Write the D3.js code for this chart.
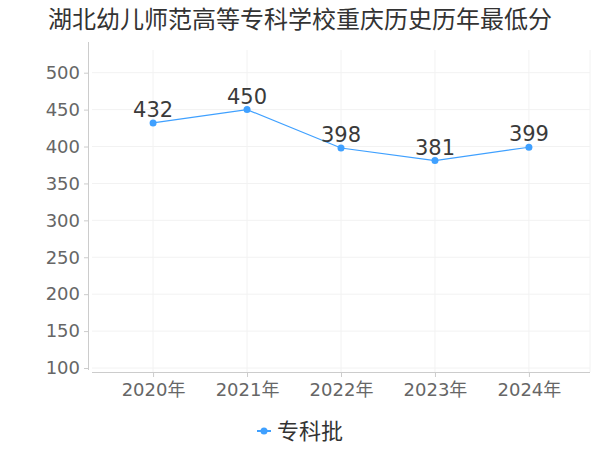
<!DOCTYPE html>
<html><head><meta charset="utf-8">
<script src="https://cdn.jsdelivr.net/npm/d3@7"></script>
<style>body{margin:0;background:#fff}svg{display:block}text{font-family:"DejaVu Sans","Noto Sans CJK SC",sans-serif}</style>
</head><body>
<svg id="c" width="600" height="450"></svg>
<script>
const title = "湖北幼儿师范高等专科学校重庆历史历年最低分";
const years = ["2020年","2021年","2022年","2023年","2024年"];
const values = [432,450,398,381,399];
const seriesName = "专科批";
const yTicks = [100,150,200,250,300,350,400,450,500];

const svg = d3.select("#c");
const x = d3.scalePoint().domain(years).range([92,590]).padding(0.65);
const y = d3.scaleLinear().domain([100,500]).range([368,72.7]);
const color = "#3fa0ff";

svg.append("text").attr("x",300).attr("y",28).attr("text-anchor","middle")
  .attr("font-size",24).attr("fill","#333").style("font-family","'Noto Sans CJK SC',sans-serif").text(title);

// grid
const g = svg.append("g");
g.selectAll(".hg").data(yTicks).enter().append("line")
  .attr("x1",92).attr("x2",590).attr("y1",d=>y(d)).attr("y2",d=>y(d))
  .attr("stroke","#f2f2f2");
g.selectAll(".vg").data(years).enter().append("line")
  .attr("x1",d=>x(d)).attr("x2",d=>x(d)).attr("y1",50).attr("y2",372)
  .attr("stroke","#f2f2f2");
g.append("line").attr("x1",590).attr("x2",590).attr("y1",50).attr("y2",372).attr("stroke","#f2f2f2");

// y axis
const ya = svg.append("g").attr("transform","translate(88,0)")
  .call(d3.axisLeft(y).tickValues(yTicks).tickSize(4).tickPadding(4));
ya.select(".domain").remove();
ya.selectAll(".tick line").attr("stroke","#ccc");
ya.selectAll(".tick text").attr("font-size",18).attr("fill","#666");
svg.append("line").attr("x1",88.5).attr("x2",88.5).attr("y1",42).attr("y2",370).attr("stroke","#ccc");

// x axis
const xa = svg.append("g").attr("transform","translate(0,372)")
  .call(d3.axisBottom(x).tickSize(5).tickPadding(6));
xa.select(".domain").remove();
xa.selectAll(".tick line").attr("stroke","#ccc");
xa.selectAll(".tick text").attr("font-size",18).attr("fill","#666");
svg.append("line").attr("x1",92).attr("x2",590).attr("y1",372.5).attr("y2",372.5).attr("stroke","#ccc");

// line
const line = d3.line().x((d,i)=>x(years[i])).y(d=>y(d));
svg.append("path").datum(values).attr("d",line).attr("fill","none").attr("stroke",color).attr("stroke-width",1.2);
svg.selectAll(".pt").data(values).enter().append("circle")
  .attr("cx",(d,i)=>x(years[i])).attr("cy",d=>y(d)).attr("r",3.5).attr("fill",color);
svg.selectAll(".lb").data(values).enter().append("text")
  .attr("x",(d,i)=>x(years[i])).attr("y",d=>y(d)-6).attr("text-anchor","middle")
  .attr("font-size",21).attr("fill","#3a3a3a").text(d=>d);

// legend
const lg = svg.append("g");
lg.append("line").attr("x1",257).attr("x2",271).attr("y1",431).attr("y2",431).attr("stroke",color).attr("stroke-width",2);
lg.append("circle").attr("cx",264).attr("cy",431).attr("r",3.5).attr("fill",color);
lg.append("text").attr("x",277).attr("y",439).attr("font-size",22).attr("fill","#333")
  .style("font-family","'Noto Sans CJK SC',sans-serif").text(seriesName);
</script>
</body></html>
